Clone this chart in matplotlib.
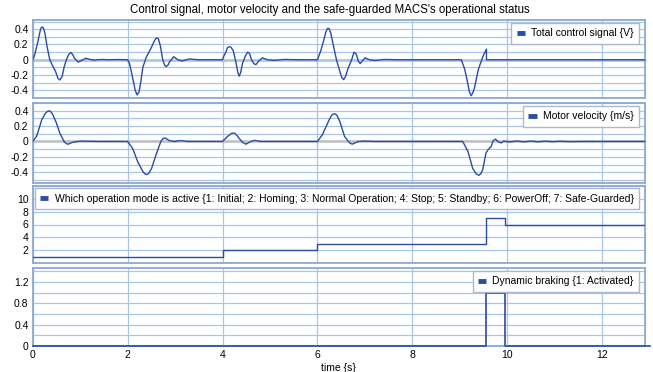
import numpy as np
import matplotlib
matplotlib.use("Agg")
import matplotlib.pyplot as plt
from matplotlib.ticker import MultipleLocator, FuncFormatter
from matplotlib.lines import Line2D

plt.rcParams['font.family'] = ['Liberation Sans', 'DejaVu Sans']
plt.rcParams['axes.unicode_minus'] = False

# control signal {V}
ctrl_t = [0.0, 0.04, 0.08, 0.11, 0.14, 0.17, 0.2, 0.23, 0.26, 0.3, 0.36, 0.43, 0.48, 0.53, 0.57,
          0.62, 0.66, 0.71, 0.76, 0.8, 0.84, 0.88, 0.96, 1.03, 1.12, 1.2, 1.3, 1.45, 1.6, 1.8, 2.0,
          2.04, 2.08, 2.12, 2.16, 2.2, 2.24, 2.28, 2.32, 2.39, 2.5, 2.55, 2.59, 2.62, 2.65, 2.69,
          2.74, 2.78, 2.81, 2.85, 2.88, 2.97, 3.06, 3.15, 3.3, 3.5, 4.0,
          4.02, 4.07, 4.105, 4.14, 4.175, 4.225, 4.28, 4.32, 4.35, 4.38, 4.42, 4.48, 4.53, 4.57,
          4.61, 4.66, 4.7, 4.77, 4.84, 4.95, 5.09, 5.3, 5.6, 6.0,
          6.07, 6.13, 6.175, 6.21, 6.24, 6.28, 6.33, 6.4, 6.47, 6.51, 6.55, 6.59, 6.64, 6.72,
          6.77, 6.82, 6.86, 6.9, 7.0, 7.1, 7.2, 7.4, 7.7, 9.03,
          9.1, 9.15, 9.2, 9.24, 9.28, 9.31, 9.38, 9.42, 9.49, 9.56, 9.56, 13.0]
ctrl_v = [0.0, 0.06, 0.16, 0.24, 0.33, 0.41, 0.43, 0.41, 0.34, 0.18, 0.0, -0.09, -0.15, -0.24, -0.265,
          -0.22, -0.1, 0.0, 0.07, 0.095, 0.07, 0.02, -0.03, -0.01, 0.02, 0.005, -0.005, 0.004, 0.0, 0.003, 0.0,
          -0.05, -0.16, -0.28, -0.4, -0.46, -0.42, -0.28, -0.1, 0.03, 0.16, 0.23, 0.275, 0.285, 0.27, 0.18,
          0.0, -0.07, -0.09, -0.07, -0.03, 0.04, 0.0, -0.015, 0.01, 0.0, 0.0,
          0.04, 0.1, 0.16, 0.17, 0.165, 0.12, -0.03, -0.16, -0.215, -0.17, -0.05, 0.05, 0.1, 0.08,
          0.0, -0.05, -0.065, -0.01, 0.025, 0.0, -0.008, 0.004, 0.0, 0.0,
          0.12, 0.25, 0.36, 0.41, 0.41, 0.35, 0.2, 0.0, -0.15, -0.23, -0.26, -0.22, -0.12, 0.0,
          0.1, 0.07, -0.02, -0.05, 0.025, 0.0, -0.01, 0.004, 0.0, 0.0,
          -0.12, -0.26, -0.42, -0.47, -0.42, -0.36, -0.15, -0.07, 0.05, 0.14, 0.0, 0.0]

# motor velocity {m/s}
vel_t = [0.0, 0.08, 0.14, 0.19, 0.26, 0.31, 0.35, 0.39, 0.43, 0.5, 0.57, 0.66, 0.71, 0.75, 0.8,
         0.85, 1.0, 1.14, 1.4, 2.0,
         2.105, 2.21, 2.32, 2.37, 2.41, 2.45, 2.505, 2.6, 2.7, 2.75, 2.79, 2.83, 2.88, 2.98, 3.12,
         3.26, 4.0,
         4.105, 4.19, 4.245, 4.3, 4.35, 4.42, 4.49, 4.6, 4.67, 4.81, 6.0,
         6.105, 6.245, 6.3, 6.34, 6.38, 6.41, 6.47, 6.57, 6.68, 6.73, 6.86, 6.99, 7.2, 9.06,
         9.17, 9.27, 9.34, 9.4, 9.44, 9.48, 9.55, 9.59, 9.66, 9.7, 9.75, 9.8, 9.87, 9.92,
         10.05, 10.2, 10.35, 10.5, 10.65, 10.8, 10.95, 11.1, 11.3, 11.6, 13.0]
vel_v = [0.0, 0.065, 0.18, 0.28, 0.36, 0.39, 0.4, 0.38, 0.34, 0.24, 0.11, 0.0, -0.03, -0.035, -0.02,
         -0.01, 0.005, 0.003, 0.0, 0.0,
         -0.09, -0.26, -0.39, -0.425, -0.43, -0.41, -0.35, -0.17, 0.0, 0.04, 0.045, 0.03, 0.01, 0.0, 0.012,
         0.0, 0.0,
         0.065, 0.105, 0.11, 0.08, 0.04, -0.01, -0.035, 0.0, 0.015, 0.0, 0.0,
         0.09, 0.28, 0.34, 0.36, 0.355, 0.34, 0.26, 0.065, -0.02, -0.035, 0.0, 0.005, 0.0, 0.0,
         -0.13, -0.35, -0.42, -0.44, -0.42, -0.37, -0.15, -0.11, -0.065, 0.01, 0.03, 0.0, -0.02, 0.005,
         -0.006, 0.006, -0.005, 0.005, -0.004, 0.004, -0.003, 0.003, -0.002, 0.0, 0.0]

# operation mode and dynamic braking
mode_t = [0.0, 4.0, 6.0, 9.55, 9.95, 13.0]
mode_v = [1, 2, 3, 7, 6, 6]
brake_t = [0.0, 9.55, 9.95, 13.0]
brake_v = [0, 1, 0, 0]

title = "Control signal, motor velocity and the safe-guarded MACS's operational status"
labels = ["Total control signal {V}", "Motor velocity {m/s}",
          "Which operation mode is active {1: Initial; 2: Homing; 3: Normal Operation; "
          "4: Stop; 5: Standby; 6: PowerOff; 7: Safe-Guarded}",
          "Dynamic braking {1: Activated}"]

blue = '#2b4ca3'
grid_c = '#a9c6e6'
frame_c = '#8fa9cc'
fs = 7.5

fig = plt.figure(figsize=(6.53, 3.72), dpi=100)
left = 32.7 / 653
width = (645 - 32.7) / 653
boxes = [(98, 78), (183, 80), (263, 77), (346, 78)]
axes = []
for bot, h in boxes:
    axes.append(fig.add_axes([left, 1 - bot / 372, width, h / 372]))

fmt = FuncFormatter(lambda v, p: '%g' % round(v, 2))

def style(ax, ylim, major, minor):
    ax.set_xlim(0, 12.9)
    ax.set_ylim(*ylim)
    ax.xaxis.set_major_locator(MultipleLocator(2))
    ax.yaxis.set_major_locator(MultipleLocator(major))
    ax.yaxis.set_minor_locator(MultipleLocator(minor))
    ax.yaxis.set_major_formatter(fmt)
    ax.grid(True, which='both', axis='y', color=grid_c, lw=0.9)
    ax.grid(True, which='major', axis='x', color=grid_c, lw=0.9)
    ax.set_axisbelow(True)
    ax.tick_params(which='both', length=0, labelsize=fs, pad=3)
    for s in ax.spines.values():
        s.set_color(frame_c)
        s.set_linewidth(1.3)

def zero_axis(ax):
    sec = ax.secondary_xaxis(0, transform=ax.transData)
    sec.xaxis.set_major_locator(MultipleLocator(2))
    sec.tick_params(direction='inout', length=4, width=0.8, color='black', labelbottom=False)
    sec.spines['bottom'].set_color('black')
    sec.spines['bottom'].set_linewidth(1.0)

def legend(ax, text, anchor):
    h = Line2D([], [], color=blue, lw=3.5, solid_capstyle='butt')
    lg = ax.legend([h], [text], loc='upper right', bbox_to_anchor=anchor, fontsize=fs,
                   fancybox=False, handlelength=0.8, handletextpad=0.6, borderpad=0.5,
                   framealpha=1, borderaxespad=0)
    lg.get_frame().set_edgecolor('#a9bad0')
    lg.get_frame().set_linewidth(1.0)

ax = axes[0]
style(ax, (-0.5, 0.52), 0.2, 0.1)
ax.set_yticks([-0.4, -0.2, 0, 0.2, 0.4])
zero_axis(ax)
ax.plot(ctrl_t, ctrl_v, color=blue, lw=1.0, zorder=3)
ax.set_xticklabels([])
legend(ax, labels[0], (0.99, 0.96))
fig.text(330 / 653, 1 - 10 / 372, title, fontsize=8.3, ha='center', va='center')

ax = axes[1]
style(ax, (-0.54, 0.5), 0.2, 0.1)
ax.set_yticks([-0.4, -0.2, 0, 0.2, 0.4])
zero_axis(ax)
ax.plot(vel_t, vel_v, color=blue, lw=1.0, zorder=3)
ax.set_xticklabels([])
legend(ax, labels[1], (0.99, 0.96))

ax = axes[2]
style(ax, (0, 12), 2, 2)
ax.set_yticks([2, 4, 6, 8, 10])
ax.step(mode_t, mode_v, where='post', color=blue, lw=1.0, zorder=3)
ax.set_xticklabels([])
legend(ax, labels[2], (0.99, 0.97))

ax = axes[3]
style(ax, (0, 1.46), 0.4, 0.2)
ax.set_yticks([0, 0.4, 0.8, 1.2])
ax.step(brake_t, brake_v, where='post', color=blue, lw=1.2, zorder=3, clip_on=False)
ax.tick_params(axis='x', labelsize=fs, pad=3)
legend(ax, labels[3], (0.99, 0.96))
ax.set_xlabel('time {s}', fontsize=fs, labelpad=2)

fig.savefig('out.png', dpi=100)
